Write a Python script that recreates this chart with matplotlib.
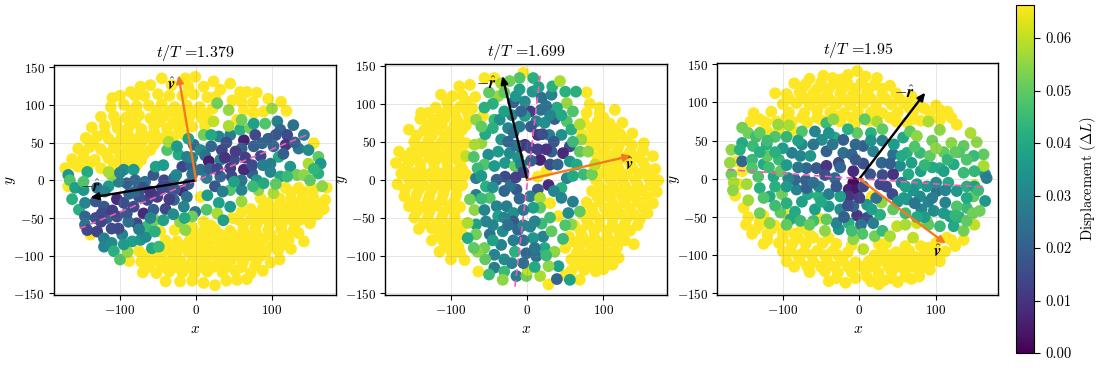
import matplotlib
matplotlib.use("Agg")
import matplotlib.pyplot as plt

plt.rcParams["font.family"] = ["cmr10", "DejaVu Sans"]
plt.rcParams["mathtext.fontset"] = "cm"
plt.rcParams["axes.formatter.use_mathtext"] = True
plt.rcParams["axes.unicode_minus"] = False

W, H = 1119, 368
VMAX = 0.0663
YELLOW = 66

times = ["1.379", "1.699", "1.95"]

# arrow tips and dashed fit line, data units
r_tips = [(-139, -23), (-32.5, 137), (86, 113)]
v_tips = [(-23, 139.5), (137, 31.6), (113, -85)]
fit_lines = [((-153, -64), (148, 61)), ((-16, -141), (17.5, 141)), ((-172, 12), (164, -11))]
r_labels = [(-139, -8), (-53, 127), (58, 112)]
v_labels = [(-32, 126), (134, 20), (102, -95)]

# saturated points, (x, y)
yellow1 = [
    (-1, 137), (-14, 135), (-45, 135), (23, 131), (45, 128), (-73, 124), (-60, 126), (-32, 126), (10, 124),
    (-86, 117), (32, 120), (58, 117), (80, 116), (67, 117), (-110, 109), (-100, 112), (-68, 112), (-50, 114),
    (-18, 112), (-3, 114), (15, 110), (48, 106), (-112, 97), (-95, 100), (-78, 98), (-62, 99), (-45, 101),
    (-28, 97), (-12, 99), (5, 97), (22, 95), (63, 93), (89, 91), (119, 92), (76, 89), (-125, 84), (-108, 85),
    (-92, 83), (-75, 86), (-60, 82), (-42, 85), (-25, 83), (-8, 85), (8, 82), (54, 80), (-137, 70), (-120, 72),
    (-103, 69), (-88, 71), (-72, 68), (-55, 72), (-38, 69), (-22, 70), (-5, 71), (12, 72), (-145, 56),
    (-130, 58), (-115, 55), (-98, 57), (-82, 54), (-65, 57), (-48, 55), (-30, 57), (-15, 60), (-155, 42),
    (-140, 44), (-125, 41), (-108, 43), (-92, 40), (-75, 44), (-60, 40), (-163, 28), (-148, 30), (-133, 27),
    (-115, 29), (-100, 27), (-85, 30), (-72, 27), (-172, 16), (-155, 18), (-138, 24), (-125, 16), (155, 49),
    (-168, -8), (-47, -68), (-139, -72), (6, -22),
    (-40, -134), (-21, -134), (-5, -133), (10, -136), (25, -139), (40, -133), (54, -132), (67, -131),
    (-70, -122), (-52, -123), (-35, -121), (-18, -122), (-2, -123), (15, -121), (35, -122), (52, -120),
    (72, -123), (88, -120), (-88, -107), (-72, -108), (-55, -106), (-38, -109), (-20, -107), (-5, -108),
    (12, -107), (30, -109), (46, -106), (62, -108), (80, -106), (98, -109), (110, -105), (-75, -94), (-60, -95),
    (-42, -93), (-25, -94), (-10, -95), (8, -93), (25, -95), (42, -92), (58, -94), (75, -92), (92, -95),
    (108, -93), (125, -91), (142, -81), (-40, -80), (-25, -81), (-8, -79), (8, -81), (22, -78), (40, -80),
    (55, -79), (72, -81), (88, -78), (105, -80), (122, -79), (-28, -66), (-8, -65), (10, -67), (25, -65),
    (45, -67), (62, -66), (78, -64), (95, -66), (112, -65), (128, -67), (150, -57), (55, -52), (72, -52),
    (88, -50), (105, -53), (122, -51), (138, -52), (152, -50), (72, -38), (88, -37), (102, -39), (118, -36),
    (135, -38), (150, -37), (168, -38), (85, -24), (110, -24), (125, -25), (140, -23), (155, -24), (170, -26),
    (118, -10), (135, -10), (150, -12), (172, -10),
    (60, -42), (48, -50), (10, -55), (20, -60), (-5, -62), (0, -100), (18, -100), (35, -100), (52, -100),
    (68, -100), (85, -100), (-30, -100), (-48, -100), (-65, -102), (-12, -115), (5, -115), (22, -115), (40, -115),
    (60, -115), (78, -113), (-28, -115), (-45, -115), (-62, -115), (0, -72), (15, -72), (32, -72), (48, -72),
    (65, -72), (80, -72), (98, -72), (115, -72), (135, -70), (62, -58), (80, -58), (97, -58), (113, -58),
    (130, -58), (145, -45), (160, -45), (80, -45), (96, -45), (112, -45), (128, -45), (95, -30), (110, -32),
    (128, -30), (145, -30), (160, -32), (155, -12), (140, -16), (125, -16), (115, -85), (100, -87), (84, -86),
    (66, -86), (50, -86), (32, -87), (16, -87), (-2, -87), (-18, -87), (-33, -87),
    (-80, 112), (-35, 112), (-10, 124), (25, 110), (-105, 77), (-80, 77), (-48, 78), (-30, 76), (-13, 78),
    (-85, 92), (-52, 92), (-35, 91), (-18, 91), (-2, 91), (14, 88), (-120, 62), (-90, 62), (-72, 62), (-55, 63),
    (-38, 62), (-23, 63), (-135, 50), (-105, 49), (-90, 47), (-72, 50), (-55, 48), (-148, 36), (-118, 35),
    (-100, 34), (-82, 36), (-68, 35), (-160, 22), (-142, 18), (-108, 20), (-92, 22), (-78, 20), (60, 104),
    (75, 103), (95, 108), (112, 104),
]

yellow2 = [
    (-89, 123), (-75, 125), (-56, 134), (-43, 134), (-113, 112), (-98, 110), (-85, 111), (-68, 109),
    (-139, 88), (-120, 95), (-103, 94), (-88, 96), (-72, 94), (-58, 84), (-140, 80), (-122, 79), (-108, 81),
    (-92, 79), (-76, 80), (-155, 66), (-135, 65), (-118, 66), (-100, 64), (-85, 66), (-148, 50), (-130, 51),
    (-112, 49), (-95, 50), (-80, 48), (-168, 37), (-152, 36), (-135, 37), (-118, 35), (-100, 36), (-85, 35),
    (-172, 22), (-155, 23), (-140, 21), (-122, 22), (-105, 23), (-88, 21), (-165, 8), (-148, 9), (-130, 7),
    (-112, 8), (-95, 9), (-80, 7), (-170, -6), (-152, -5), (-136, -7), (-118, -6), (-102, -5), (-85, -7),
    (-161, -22), (-145, -20), (-128, -21), (-110, -19), (-93, -20), (-155, -35), (-138, -36), (-120, -34),
    (-102, -35), (-88, -36), (-148, -50), (-130, -49), (-112, -51), (-95, -50), (-142, -65), (-125, -64),
    (-108, -66), (-90, -65), (-125, -80), (-110, -81), (-95, -79), (-115, -95), (-100, -94), (-88, -96),
    (-100, -105), (-82, -106), (-64, -121), (-5, 141), (78, 115), (28, -138), (41, -48), (30, -31), (25, 11),
    (14, 4), (95, 95), (115, 92), (78, 88), (95, 87), (75, 75), (92, 76), (108, 74), (125, 75), (72, 60),
    (88, 61), (105, 59), (122, 60), (138, 61), (153, 48), (88, 45), (105, 46), (120, 44), (138, 45), (92, 30),
    (110, 31), (128, 29), (145, 30), (165, 31), (88, 15), (105, 16), (120, 14), (138, 15), (155, 16), (168, 14),
    (90, 0), (108, 1), (125, -1), (142, 0), (160, 1), (172, -1), (85, -15), (102, -14), (118, -16), (135, -15),
    (150, -14), (170, -16), (78, -30), (95, -29), (112, -31), (128, -30), (145, -29), (165, -31), (72, -45),
    (88, -46), (105, -44), (122, -45), (140, -46), (158, -44), (62, -60), (80, -59), (95, -61), (112, -60),
    (128, -59), (145, -60), (55, -75), (72, -74), (88, -76), (105, -75), (122, -74), (50, -90), (68, -89),
    (85, -91), (100, -90), (118, -89), (140, -85), (58, -105), (72, -104), (90, -106), (105, -105), (120, -103),
    (58, -120), (75, -119), (90, -121), (100, -118), (69, -132), (50, -126),
    (-105, 102), (-80, 103), (-130, 88), (-112, 87), (-95, 87), (-78, 88), (-130, 72), (-112, 72), (-95, 72),
    (-80, 72), (-145, 58), (-125, 58), (-108, 57), (-90, 58), (-140, 43), (-122, 43), (-105, 43), (-88, 42),
    (-160, 30), (-145, 29), (-128, 29), (-110, 29), (-93, 28), (-160, 15), (-140, 14), (-122, 14), (-104, 15),
    (-85, 14), (-155, 1), (-140, 1), (-122, 0), (-105, 1), (-90, 0), (-160, -13), (-142, -13), (-125, -13),
    (-108, -12), (-92, -12), (-148, -28), (-130, -28), (-112, -27), (-95, -28), (-145, -42), (-128, -42),
    (-110, -43), (-95, -42), (-135, -57), (-118, -58), (-100, -58), (-85, -60), (-115, -72), (-100, -72),
    (-85, -72), (-105, -88), (-90, -88),
    (82, 100), (100, 82), (85, 68), (100, 67), (115, 67), (130, 52), (112, 52), (95, 53), (80, 52), (100, 38),
    (118, 37), (135, 37), (152, 38), (100, 23), (118, 22), (135, 22), (152, 23), (162, 8), (148, 8), (130, 7),
    (115, 7), (98, 8), (95, -8), (112, -8), (128, -8), (145, -7), (162, -8), (92, -22), (108, -23), (125, -22),
    (140, -22), (158, -23), (85, -38), (102, -38), (118, -38), (135, -38), (152, -37), (78, -52), (95, -53),
    (112, -52), (130, -52), (148, -52), (70, -67), (88, -67), (105, -67), (120, -67), (135, -67), (62, -82),
    (78, -82), (95, -83), (112, -82), (128, -80), (65, -97), (80, -98), (95, -97), (110, -97), (65, -112),
    (82, -112), (98, -112), (112, -112),
]

yellow3 = [
    (-47, 135), (-65, 131), (-3, 141), (23, 132), (-15, 136), (-85, 125), (-70, 124), (-50, 126), (-32, 125),
    (-15, 124), (3, 126), (20, 123), (40, 122), (-110, 112), (-95, 111), (-78, 113), (-60, 112), (-42, 110),
    (-25, 112), (-8, 111), (10, 113), (30, 110), (48, 112), (68, 108), (-100, 98), (-82, 99), (-65, 97),
    (-48, 99), (-30, 98), (-12, 97), (5, 99), (22, 98), (42, 97), (58, 99), (78, 97), (100, 96), (-138, 86),
    (-115, 88), (-92, 87), (-72, 86), (-55, 89), (-38, 87), (-20, 86), (-2, 88), (15, 87), (30, 86), (50, 87),
    (70, 88), (92, 86), (115, 88), (-142, 75), (-122, 74), (-105, 63), (-88, 75), (-68, 74), (-48, 76), (-25, 75),
    (-5, 74), (12, 76), (48, 75), (62, 74), (80, 76), (127, 71), (-120, 62), (-85, 62), (-160, 23), (-153, 10),
    (-158, -7), (-162, -22), (-151, -38), (16, -23), (150, -8), (-145, -50), (-125, -48), (-95, -47), (-148, -60),
    (-130, -60), (-110, -61), (-52, -52), (-140, -72), (-120, -72), (-100, -71), (-85, -72), (-65, -73), (-125, -85),
    (-105, -84), (-88, -86), (-70, -85), (-48, -84), (-30, -85), (35, -84), (114, -77), (136, -80), (100, -84),
    (80, -88), (-90, -95), (-72, -96), (-55, -94), (-35, -95), (-15, -96), (30, -95), (48, -96), (65, -94),
    (85, -97), (98, -95), (-95, -108), (-78, -107), (-60, -109), (-42, -108), (-22, -107), (-5, -109), (12, -108),
    (30, -107), (45, -109), (62, -108), (80, -106), (95, -108), (112, -95), (-65, -122), (-45, -121), (-28, -123),
    (-10, -122), (8, -121), (25, -123), (42, -122), (60, -120), (78, -121), (92, -119), (-40, -134), (-18, -136),
    (15, -134), (25, -138), (32, -133), (50, -135), (68, -131),
    (-128, 62), (-108, 75), (-92, 105), (-70, 105), (-55, 105), (-38, 103), (-20, 104), (-2, 105), (15, 105),
    (35, 104), (52, 105), (65, 93), (85, 92), (105, 90), (120, 80), (105, 77), (92, 78), (70, 78), (40, 80),
    (25, 85), (-10, 80), (-30, 82), (-55, 80), (-75, 80), (-95, 80), (-130, 78), (-75, 118), (-55, 118), (-40, 118),
    (-22, 118), (-5, 118), (12, 118), (30, 118), (-35, 132), (-25, 130), (8, 134), (-130, -55), (-135, -66),
    (-115, -66), (-95, -62), (-75, -65), (-120, -80), (-100, -78), (-80, -78), (-60, -77), (-40, -77), (-100, -95),
    (-80, -100), (-62, -100), (-45, -100), (-28, -100), (-10, -87), (20, -100), (38, -100), (55, -102), (72, -102),
    (90, -102), (105, -100), (25, -85), (60, -88), (90, -90), (125, -88), (-85, -115), (-68, -115), (-50, -115),
    (-32, -115), (-15, -115), (3, -115), (20, -115), (38, -115), (52, -115), (70, -115), (88, -113), (105, -108),
    (-30, -130), (-5, -130), (10, -128), (42, -130), (60, -128), (78, -128), (120, -80),
]

# displacement points, (x, y, displacement x 1000)
band1 = [
    (-168, 7, 35), (-166, 0, 48), (-159, -10, 38), (-148, -13, 35), (-163, -25, 42), (-154, -39, 42),
    (-146, -30, 30), (-146, -48, 22), (-132, -28, 18), (-121, -35, 18), (-143, 11, 40), (-148, -2, 48),
    (-146, -59, 25), (-143, -66, 15), (-130, -68, 13), (-121, -77, 28), (-121, -88, 30), (-111, -83, 32),
    (-108, -94, 42), (-100, -105, 48), (-90, -95, 55), (-97, -72, 30), (-84, -81, 38), (-73, -79, 35),
    (-66, -75, 32), (-58, -90, 40), (-49, -88, 45), (-64, -61, 45), (-54, -53, 52), (-43, -53, 38),
    (-54, -68, 42), (-78, -57, 15), (-89, -55, 25), (-102, -64, 14), (-111, -64, 15), (-117, -50, 20),
    (-104, -48, 15), (-132, -50, 16), (-124, -44, 15), (-104, -25, 8), (-91, -44, 18), (-82, -35, 15),
    (-69, -44, 8), (-51, -22, 12), (-40, -38, 14), (-29, -26, 22), (-18, -14, 8), (-56, -39, 20),
    (-64, -26, 14), (-75, -22, 17), (-91, -4, 20), (-102, -2, 28), (-115, -8, 36), (-111, 7, 55),
    (-115, 11, 58), (-95, 14, 33), (-82, 14, 36), (-67, -2, 25), (-56, 7, 18), (-53, 18, 38), (-43, 20, 36),
    (-42, 0, 14), (-29, 3, 24), (-18, 18, 14), (-7, 20, 20), (-23, 34, 40), (-12, 31, 28), (-38, 40, 48),
    (-36, 51, 58), (-26, 7, 30), (-3, 47, 22), (6, 40, 32), (12, 33, 25), (17, 25, 5), (6, 14, 25),
    (14, 3, 28), (25, -8, 18), (45, 16, 12), (34, 40, 14), (50, 27, 15), (63, 53, 6), (60, 42, 20),
    (76, 45, 20), (87, 49, 22), (30, 58, 30), (45, 60, 28), (10, 60, 52), (58, 67, 42), (71, 69, 52),
    (76, 75, 38), (91, 75, 48), (107, 78, 28), (111, 67, 22), (128, 73, 25), (142, 60, 28), (120, 60, 15),
    (118, 47, 10), (102, 45, 22), (135, 42, 27), (148, 40, 32), (161, 31, 50), (164, 22, 35), (148, 22, 58),
    (161, 9, 42), (166, -8, 55), (124, 18, 35), (109, 31, 40), (98, 22, 28), (74, 9, 20), (63, 14, 8),
    (74, 20, 15), (47, 5, 14), (32, 5, 22), (45, -13, 48), (60, -13, 30), (80, 0, 35), (98, 11, 30),
    (111, 5, 40), (133, 7, 52), (142, 7, 55), (102, -17, 58), (82, -13, 55), (89, -4, 40), (30, -30, 38),
    (60, -28, 56), (45, -35, 36), (-1, -42, 25), (14, -39, 48), (28, -44, 58), (36, -53, 38), (-5, -48, 52),
    (-21, -55, 55), (-14, -66, 55), (32, 27, 30), (-12, -22, 25), (-16, -35, 30), (100, 95, 56), (43, 93, 56),
    (28, 102, 52), (23, 78, 60), (43, 72, 58), (-5, 30, 30), (-80, -15, 22), (-35, -10, 16), (20, 45, 22),
    (-125, -55, 14), (-110, -40, 12), (-95, -30, 16), (-88, -18, 22), (-70, -10, 16), (-60, -15, 10),
    (-45, -10, 14), (-35, -25, 12), (-28, -12, 18), (-10, -5, 18), (-5, 8, 24), (18, 15, 20), (28, 15, 14),
    (38, 30, 10), (52, 38, 12), (40, 50, 16), (65, 30, 12), (85, 32, 14), (78, 60, 15), (95, 55, 20),
    (105, 60, 18), (130, 50, 20), (115, 35, 20), (88, 20, 28), (60, 0, 26), (35, -15, 28), (15, -20, 36),
    (50, -2, 38), (120, 5, 45), (105, -5, 50), (-130, -10, 25), (-120, -15, 30), (-100, 10, 30), (-80, 0, 22),
    (-95, -85, 36), (-75, -65, 28), (-60, -50, 30), (-30, -45, 32), (-15, -50, 40), (75, -8, 45), (150, 0, 50),
    (155, 15, 44), (60, 80, 52), (20, 60, 40), (-10, 55, 38), (-25, 45, 36),
]

band2 = [
    (-56, 95, 42), (-67, 79, 55), (-43, 79, 45), (-36, 79, 33), (-25, 68, 30), (-34, 53, 35), (-45, 68, 42),
    (-60, 48, 56), (-69, 46, 58), (-80, 31, 60), (-51, 33, 33), (-38, 37, 36), (-23, 35, 32), (-56, 20, 48),
    (-43, 18, 36), (-29, 22, 35), (-16, 18, 50), (-12, 29, 34), (-10, 44, 10), (-3, 46, 10), (4, 42, 15),
    (17, 26, 6), (14, 40, 12), (4, 90, 12), (18, 92, 25), (-3, 103, 32), (-18, 102, 20), (-10, 119, 38),
    (8, 134, 42), (-10, 134, 48), (-23, 130, 52), (-38, 110, 56), (-34, 127, 58), (7, 116, 35), (19, 108, 25),
    (32, 112, 30), (33, 123, 42), (50, 116, 42), (43, 130, 58), (64, 116, 42), (52, 101, 56), (39, 95, 40),
    (25, 97, 25), (36, 80, 20), (52, 77, 48), (58, 66, 42), (69, 73, 58), (71, 53, 56), (56, 44, 15), (47, 35, 8),
    (29, 59, 28), (14, 59, 10), (-3, 84, 38), (12, 77, 30), (23, 75, 33), (45, 59, 33), (32, 37, 20), (30, 20, 15),
    (56, 24, 35), (69, 37, 50), (65, 20, 40), (74, 7, 45), (85, 7, 52), (89, 20, 60), (80, 37, 55), (52, 2, 30),
    (45, -11, 42), (45, -24, 30), (60, -29, 28), (69, -42, 50), (54, -44, 32), (28, -7, 8), (14, -13, 18),
    (4, -22, 28), (17, -24, 58), (17, -37, 50), (8, -37, 38), (-14, -13, 18), (-29, 4, 15), (-40, 0, 20),
    (-67, 2, 28), (-54, -9, 42), (-49, -24, 48), (-67, -20, 28), (-75, -26, 52), (-69, -40, 55), (-56, -40, 30),
    (-40, -35, 30), (-27, -35, 28), (-18, -44, 33), (-38, -48, 38), (-54, -55, 30), (-67, -59, 38), (-78, -57, 58),
    (-18, -55, 18), (-12, -66, 22), (-32, -68, 32), (-49, -72, 25), (-67, -72, 52), (-78, -77, 40), (-56, -90, 52),
    (-34, -86, 30), (-16, -95, 42), (-43, -99, 30), (-30, -105, 32), (-43, -116, 28), (-30, -121, 45),
    (-14, -127, 28), (-1, -127, 52), (-32, -132, 55), (1, -119, 60), (-1, -97, 22), (12, -101, 25), (23, -90, 40),
    (21, -75, 30), (8, -77, 35), (4, -62, 30), (19, -58, 45), (32, -68, 50), (47, -78, 45), (36, -95, 55),
    (41, -114, 38), (39, -131, 22), (28, -114, 55), (17, -127, 58), (56, -132, 38), (58, -59, 55), (-18, 62, 24),
    (-8, 20, 30), (-22, -8, 25), (-5, -60, 30), (-18, -80, 28), (-55, -105, 50), (-65, -95, 55), (-50, 115, 50),
    (-55, 60, 40), (-65, 15, 45), (-30, -50, 30), (30, -50, 46),
    (-20, 85, 30), (-30, 90, 38), (-10, 70, 28), (5, 70, 18), (20, 60, 16), (-15, 45, 26), (-25, 50, 22),
    (35, 50, 18), (25, 40, 10), (40, 20, 22), (5, 25, 20), (-5, 10, 14), (-15, 3, 12), (-30, -15, 22),
    (-10, -25, 22), (-5, -40, 26), (10, -55, 30), (-25, -60, 25), (-45, -60, 30), (-5, -80, 24), (-20, -110, 30),
    (10, -90, 26), (-5, -110, 24), (10, -115, 40), (25, -100, 45), (-45, -80, 38), (-60, -25, 45), (-45, -10, 34),
    (-60, 5, 35), (-70, 30, 48), (-60, 70, 50), (-45, 100, 42), (-30, 115, 50), (-8, 90, 22), (30, 85, 30),
    (45, 85, 40), (60, 90, 48), (60, 50, 45), (60, 5, 40), (35, -15, 30), (50, -60, 48), (-70, -90, 50),
    (-50, -125, 45), (-15, 110, 35), (15, 122, 38),
]

band3 = [
    (-153, 67, 52), (-145, 60, 52), (-153, 47, 40), (-167, 38, 55), (-156, 38, 42), (-139, 43, 45), (-153, 23, 22),
    (-140, 25, 45), (-169, 21, 56), (-167, 6, 52), (-164, -5, 58), (-147, -7, 57), (-130, -12, 42), (-140, 14, 48),
    (-125, 19, 40), (-132, 3, 48), (-121, 45, 42), (-106, 71, 56), (-92, 70, 58), (-75, 62, 48), (-58, 62, 30),
    (-43, 73, 45), (-34, 78, 55), (-32, 54, 40), (-49, 51, 33), (-21, 51, 20), (-3, 60, 50), (7, 78, 50),
    (23, 75, 58), (57, 54, 40), (66, 62, 50), (75, 56, 55), (105, 64, 55), (90, 75, 58), (120, 47, 55), (136, 43, 50),
    (153, 48, 55), (162, 32, 50), (149, 30, 45), (164, 6, 35), (166, 1, 28), (162, 17, 58), (149, -23, 50),
    (164, -29, 35), (157, -42, 52), (140, -38, 45), (127, -36, 48), (101, -16, 24), (112, -31, 30), (97, -42, 32),
    (81, -40, 30), (62, -27, 35), (79, -23, 32), (88, -10, 35), (75, -7, 38), (64, 6, 40), (53, 17, 32), (68, 21, 38),
    (79, 34, 45), (92, 30, 50), (105, 14, 42), (123, 19, 40), (136, 8, 45), (127, -16, 35), (140, -10, 42),
    (116, -5, 40), (62, 34, 42), (44, 32, 25), (29, 21, 22), (14, 6, 18), (44, 6, 10), (43, -20, 15), (27, -7, 15),
    (29, -31, 55), (10, -34, 35), (-3, -48, 10), (10, -51, 15), (2, -60, 25), (18, -58, 28), (27, -47, 42),
    (4, -72, 48), (-8, -79, 55), (5, -92, 60), (20, -75, 52), (30, -68, 45), (75, -58, 62), (49, -62, 60),
    (70, -77, 60), (105, -62, 45), (123, -62, 40), (136, -68, 52), (118, -49, 36), (-27, -66, 35), (-30, -58, 30),
    (-14, -58, 42), (-43, -53, 50), (-58, -40, 38), (-40, -36, 36), (-84, -43, 40), (-90, -53, 40), (-77, -55, 45),
    (-103, -44, 50), (-117, -58, 55), (-145, -28, 57), (-117, -23, 40), (-101, -20, 52), (-82, -14, 30), (-67, -20, 40),
    (-53, -23, 42), (-69, -12, 20), (-53, -10, 30), (-84, -1, 22), (-112, 3, 40), (-93, 1, 30), (-103, 10, 50),
    (-88, 34, 28), (-77, 30, 30), (-64, 30, 35), (-69, 14, 22), (-56, 14, 18), (-43, 17, 10), (-43, 36, 20),
    (-27, 21, 15), (-21, 34, 25), (-10, 32, 22), (5, 43, 20), (18, 36, 30), (-8, 10, 8), (-8, -5, 2), (-14, -14, 6),
    (-3, -14, 4), (-14, -23, 10), (-32, 1, 22), (-40, -20, 28), (-25, -23, 38), (-8, -36, 22), (16, -40, 38),
    (44, -40, 50), (-100, 40, 36), (-105, 25, 45), (-120, 30, 50), (-75, 45, 32), (-60, 45, 26), (30, 50, 30),
    (95, 50, 52), (140, 25, 48), (60, -45, 45), (88, -55, 55), (150, -60, 60),
    (-130, 35, 42), (-135, 55, 46), (-110, 55, 48), (-95, 55, 44), (-80, 50, 38), (-40, 60, 34), (-15, 65, 42),
    (15, 60, 42), (30, 65, 50), (45, 45, 36), (-35, 45, 26), (-25, 15, 22), (-30, -10, 18), (-45, 5, 16),
    (-70, -2, 20), (-80, 15, 26), (-95, 18, 36), (-118, 15, 46), (-125, -25, 48), (-110, -10, 42), (-95, -10, 36),
    (-95, -32, 42), (-75, -30, 38), (-60, -55, 46), (-50, -30, 40), (-25, -40, 32), (-20, -50, 20), (-15, -35, 16),
    (0, -25, 12), (5, -10, 14), (5, 20, 16), (-5, 25, 18), (30, 5, 16), (35, -10, 14), (55, -5, 28), (50, -30, 35),
    (70, -15, 34), (90, -30, 30), (100, -5, 32), (110, 10, 38), (95, 15, 40), (80, 10, 38), (110, -45, 36),
    (130, -50, 42), (90, -60, 50), (140, -55, 50), (150, -10, 38), (60, -60, 58), (40, -75, 58), (-10, -68, 46),
    (-45, -68, 55), (-65, -60, 50), (150, 10, 44), (110, 35, 50), (130, 35, 48), (145, 60, 58), (-165, -15, 55),
    (-110, -35, 46), (-130, -45, 52), (-130, 60, 50),
    (55, 30, 40), (72, 42, 48), (85, 18, 44), (112, -15, 30), (95, -25, 28), (72, -32, 26), (60, -10, 38),
    (85, -50, 36), (125, -48, 44), (155, -15, 45), (140, -25, 40), (115, 25, 44), (125, 35, 50), (75, -50, 40),
    (58, -25, 36), (100, 40, 55), (148, -45, 52), (40, 20, 20), (22, -25, 25), (-5, 45, 22), (15, 50, 34),
    (-60, -5, 24), (-120, 50, 46), (-110, 35, 42), (-95, -60, 50),
]

yellow_sets = [yellow1, yellow2, yellow3]
band_sets = [band1, band2, band3]

# axes boxes in pixels: left, right, top, bottom
boxes = [(54, 336, 65, 295), (385.3, 666.7, 64, 295), (717.3, 998.3, 62.7, 295)]
xlims = [(-186.8, 184.2), (-186, 183), (-185.4, 181.2)]
ylims = [(-152, 152.7), (-152, 152.5), (-152, 152)]


def to_rect(left, right, top, bottom):
    return [left / W, 1 - bottom / H, (right - left) / W, (bottom - top) / H]


fig = plt.figure(figsize=(W / 100, H / 100), dpi=100)
sc = None
for i in range(3):
    ax = fig.add_axes(to_rect(*boxes[i]))
    xs = [p[0] for p in yellow_sets[i]] + [p[0] for p in band_sets[i]]
    ys = [p[1] for p in yellow_sets[i]] + [p[1] for p in band_sets[i]]
    cs = [YELLOW / 1000.0 * 1.01] * len(yellow_sets[i]) + [p[2] / 1000.0 for p in band_sets[i]]
    sc = ax.scatter(xs, ys, c=cs, cmap="viridis", vmin=0, vmax=VMAX, s=72, linewidths=0, zorder=2)

    (x0, y0), (x1, y1) = fit_lines[i]
    ax.plot([x0, x1], [y0, y1], color="#f25ab8", lw=1.2, ls=(0, (4, 2.5)), zorder=3)
    ax.annotate("", xy=r_tips[i], xytext=(0, 0), zorder=4,
                arrowprops=dict(arrowstyle="-|>,head_width=0.2,head_length=0.45", color="black", lw=1.7,
                                shrinkA=0, shrinkB=0))
    ax.annotate("", xy=v_tips[i], xytext=(0, 0), zorder=4,
                arrowprops=dict(arrowstyle="-|>,head_width=0.2,head_length=0.45", color="#f47a1f", lw=1.7,
                                shrinkA=0, shrinkB=0))
    ax.text(*r_labels[i], r"$-\hat{\boldsymbol{r}}$", fontsize=11.5, ha="center", va="center", zorder=5)
    ax.text(*v_labels[i], r"$\hat{\boldsymbol{v}}$", fontsize=11.5, ha="center", va="center", zorder=5)

    ax.set_xlim(*xlims[i])
    ax.set_ylim(*ylims[i])
    ax.set_xticks([-100, 0, 100])
    ax.set_yticks([-150, -100, -50, 0, 50, 100, 150])
    ax.grid(True, color="grey", alpha=0.2, lw=0.7)
    ax.set_axisbelow(False)
    ax.tick_params(labelsize=9.5, length=3.5, width=0.8, pad=3)
    ax.set_xlabel(r"$x$", fontsize=11, labelpad=4)
    ax.set_ylabel(r"$y$", fontsize=11)
    ax.yaxis.set_label_coords(-0.127, 0.5)
    ax.set_title(r"$t/T$ =" + times[i], fontsize=11.5, pad=6)
    for spine in ax.spines.values():
        spine.set_linewidth(1.0)

cax = fig.add_axes(to_rect(1016, 1034, 5, 353))
cb = fig.colorbar(sc, cax=cax)
cb.set_ticks([0, 0.01, 0.02, 0.03, 0.04, 0.05, 0.06])
cb.ax.set_yticklabels(["0.00", "0.01", "0.02", "0.03", "0.04", "0.05", "0.06"])
cb.ax.tick_params(labelsize=10.5, length=4, width=0.8, pad=4)
cb.set_label(r"Displacement ($\Delta L$)", fontsize=10.5, labelpad=5)
cb.outline.set_linewidth(0.8)

fig.savefig("out.png", dpi=100)
